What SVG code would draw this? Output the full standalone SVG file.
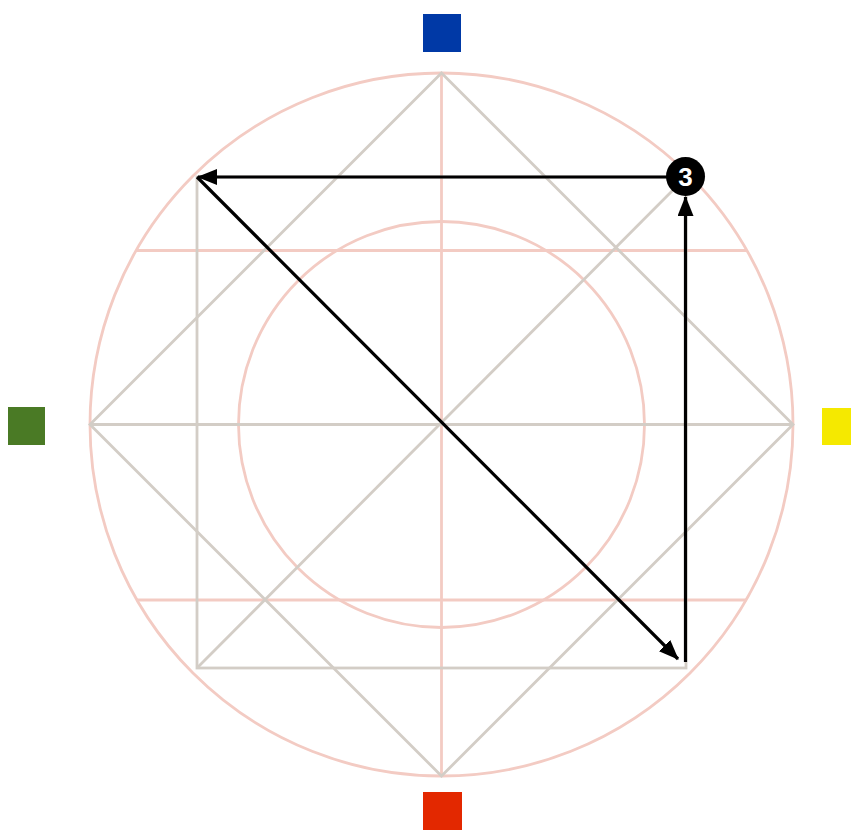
<svg xmlns="http://www.w3.org/2000/svg" width="851" height="830" viewBox="0 0 851 830">
  <style>
    .pink { fill: none; stroke: #f3cbc3; stroke-width: 2.8; }
    .gray { fill: none; stroke: #d3cdc6; stroke-width: 2.8; }
    .arrow { fill: none; stroke: #000; stroke-width: 3.2; marker-end: url(#ah); }
    .badge-text { font-family: "Liberation Sans", Arial, sans-serif; font-weight: bold; font-size: 26px; fill: #fff; }
  </style>
  <defs>
    <marker id="ah" markerUnits="userSpaceOnUse" markerWidth="20" markerHeight="16" refX="19" refY="8" orient="auto">
      <path d="M0,0 L20,8 L0,16 Z" fill="#000"/>
    </marker>
  </defs>
  <rect width="851" height="830" fill="#fff"/>

  <g id="guides">
    <circle class="pink" cx="441.5" cy="424.5" r="351.5"/>
    <circle class="pink" cx="441.5" cy="424.5" r="203"/>
    <line class="pink" x1="441.5" y1="73" x2="441.5" y2="776"/>
    <line class="pink" x1="136.7" y1="250.5" x2="746.3" y2="250.5"/>
    <line class="pink" x1="136.7" y1="600" x2="746.3" y2="600"/>
    <line class="gray" x1="90" y1="424.5" x2="793" y2="424.5"/>
    <rect class="gray" x="197" y="177" width="489" height="491"/>
    <polygon class="gray" points="441.5,73 793,424.5 441.5,776 90,424.5"/>
    <line class="gray" x1="686" y1="177" x2="197" y2="668"/>
  </g>

  <g id="colour-blue"><rect x="423" y="14" width="38" height="38" fill="#0039a6"/></g>
  <g id="colour-green"><rect x="8" y="407" width="37" height="38" fill="#4a7a25"/></g>
  <g id="colour-yellow"><rect x="822" y="408" width="29" height="37" fill="#f5e900"/></g>
  <g id="colour-red"><rect x="423" y="792" width="39" height="38" fill="#e32800"/></g>

  <g id="connectors">
    <line class="arrow" x1="668" y1="177" x2="198" y2="177"/>
    <line class="arrow" x1="197" y1="177" x2="678" y2="659"/>
    <line class="arrow" x1="685.5" y1="662" x2="685.5" y2="197"/>
  </g>

  <g id="step-3">
    <circle cx="685.5" cy="176.5" r="19.5" fill="#000"/>
    <text class="badge-text" x="685.5" y="185.5" text-anchor="middle">3</text>
  </g>
</svg>
